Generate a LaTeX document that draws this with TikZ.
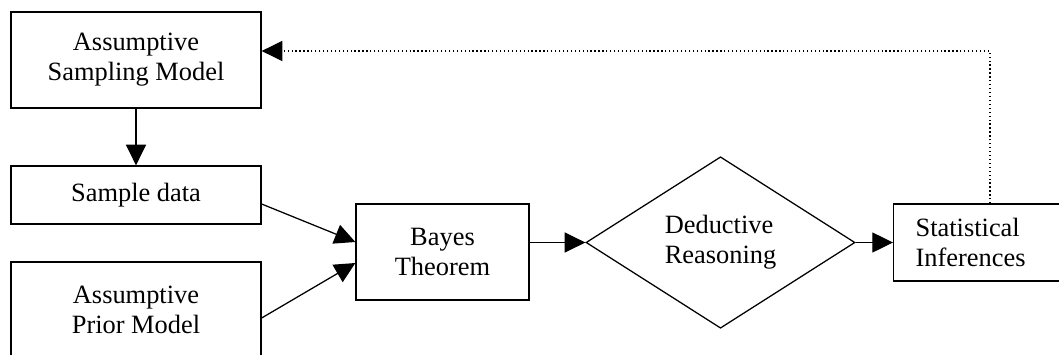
\documentclass[tikz,border=0pt]{standalone}
\usepackage{fontspec}
\setmainfont{Liberation Serif}
\usetikzlibrary{arrows.meta,shapes.geometric}
\tikzset{>={Triangle[length=15.5pt,width=15pt]}}
\def\px{0.75pt}
\tikzstyle{box}=[draw,line width=0.95pt,align=center,inner sep=0pt,
  font=\fontsize{19.8}{22.5}\selectfont]
\tikzstyle{link}=[->,line width=0.95pt]

\begin{document}
\begin{tikzpicture}[x=\px,y=-\px]
      \useasboundingbox (0,0) rectangle (1059,354);
      \clip (0,0) rectangle (1059,354);

      % BOXES
      \node[box,minimum width=250*\px,minimum height=96*\px]
        (sampling) at (136,60) {Assumptive\\Sampling Model};
      \node[box,minimum width=250*\px,minimum height=58*\px]
        (data) at (136,195) {Sample data};
      \node[box,minimum width=250*\px,minimum height=96*\px]
        (prior) at (136,310) {Assumptive\\Prior Model};
      \node[box,minimum width=173*\px,minimum height=96*\px]
        (bayes) at (442.5,252) {Bayes\\Theorem};
      \node[box,shape=diamond,minimum width=269*\px,minimum height=153*\px]
        (reason) at (720.5,242.5) {\begin{tabular}{@{}l@{}}Deductive\\Reasoning\end{tabular}};
      \node[box,anchor=west,align=left,text width=130*\px,inner xsep=22*\px,
        minimum height=77*\px] (stat) at (893,242.5) {Statistical\\Inferences};

      % ARROWS
      \draw[link] (sampling) -- (data);
      \draw[link] ([yshift=-9*\px]data.east) -- ([yshift=10*\px]bayes.west);
      \draw[link] ([yshift=-8*\px]prior.east) -- ([yshift=-11*\px]bayes.west);
      \draw[link] (bayes.east |- reason.west) -- (reason.west);
      \draw[link] (reason.east) -- (reason.east -| stat.west);

      % FEEDBACK
      \coordinate (up) at (990,51);
      \draw[->,dotted,line width=0.95pt]
        (stat.north -| up) -- (up) -- (up -| sampling.east);
    \end{tikzpicture}
\end{document}
